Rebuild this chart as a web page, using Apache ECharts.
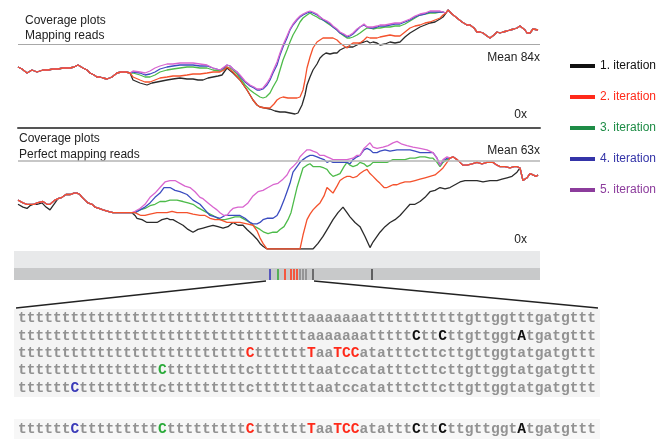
<!DOCTYPE html>
<html>
<head>
<meta charset="utf-8">
<script src="https://cdn.jsdelivr.net/npm/echarts@6/dist/echarts.min.js"></script>
<style>
  html, body { margin: 0; padding: 0; background: #fff; }
  #main { width: 659px; height: 440px; }
</style>
</head>
<body>
<div id="main"></div>
<script>
// iteration names and colours
var names = ['1. iteration', '2. iteration', '3. iteration', '4. iteration', '5. iteration'];
var lineColors = ['#2b2b2b', '#f4512c', '#4dbb4a', '#3b4cc0', '#d965cf'];
var legendColors = ['#111111', '#ff2a1a', '#1e8c46', '#3434a8', '#8c3c9c'];

// --- coverage, mapping reads (position, coverage x) ---
var mapLeft = [[0,61],[4,59],[9,55],[14,58],[19,56],[25,58],[30,58],[35,59],[40,59],[45,60],[52,60],[56,61],[60,63],[65,60],[69,58],[72,55],[76,53],[79,51],[82,51],[85,50],[89,49],[94,51],[99,55],[103,56],[108,56],[112,55]];
var mapRight = [[428,115],[430,118],[434,114],[439,110],[444,106],[449,103],[452,103],[456,100],[459,96],[462,96],[465,95],[469,92],[472,90],[476,93],[479,96],[482,95],[485,96],[489,97],[492,98],[496,99],[499,100],[502,102],[504,103],[507,98],[509,95],[512,95],[515,99],[517,101],[520,98]];
var mapIter1 = [[115,48],[122,45],[129,43],[134,45],[139,46],[144,47],[149,48],[155,49],[162,50],[169,49],[175,49],[180,48],[185,48],[190,50],[195,51],[200,52],[204,53],[209,60],[215,55],[222,48],[229,38],[235,28],[239,23],[242,21],[247,20],[252,19],[257,17],[262,16],[267,16],[272,15],[277,14],[280,15],[284,23],[287,33],[289,43],[292,51],[295,58],[299,64],[302,70],[305,73],[308,75],[312,74],[316,75],[319,75],[322,78],[326,80],[329,81],[332,81],[335,81],[339,83],[342,85],[346,86],[349,87],[352,85],[355,86],[359,85],[362,83],[367,84],[372,86],[377,85],[382,86],[387,91],[392,95],[397,98],[402,101],[407,103],[412,105],[417,106],[422,109],[425,111]];
var mapIter2 = [[115,51],[122,48],[127,46],[132,46],[137,48],[142,50],[149,51],[155,52],[162,52],[169,53],[175,54],[182,54],[189,55],[195,56],[202,56],[206,58],[209,61],[215,56],[222,48],[229,38],[235,28],[239,23],[242,21],[247,20],[252,20],[256,24],[259,28],[262,30],[265,31],[270,30],[275,30],[279,30],[282,31],[285,38],[287,48],[289,60],[292,71],[295,80],[299,86],[302,88],[305,90],[309,90],[315,90],[319,88],[322,85],[326,82],[329,80],[332,83],[335,85],[339,85],[342,85],[346,88],[349,91],[352,90],[355,90],[359,90],[362,91],[367,92],[372,93],[377,92],[382,92],[387,96],[392,100],[397,102],[402,103],[407,105],[412,106],[417,108],[422,110],[425,113]];
var mapIter3 = [[115,55],[122,53],[127,51],[132,51],[137,53],[142,56],[149,58],[155,59],[162,60],[169,61],[175,61],[182,60],[189,60],[195,58],[202,57],[206,59],[209,61],[212,60],[215,58],[219,54],[222,50],[227,43],[232,38],[236,35],[239,33],[242,31],[245,30],[248,31],[252,35],[255,41],[259,48],[262,58],[265,68],[269,78],[272,86],[275,93],[279,100],[282,106],[285,110],[289,113],[292,115],[295,113],[299,111],[302,109],[305,108],[309,105],[312,103],[315,101],[319,98],[322,95],[326,92],[329,90],[332,90],[335,91],[339,93],[342,95],[346,98],[349,100],[352,100],[355,99],[359,100],[362,100],[367,101],[372,101],[377,102],[382,102],[387,104],[392,107],[397,110],[402,113],[407,114],[412,115],[417,115],[422,116],[425,116]];
var mapIter4 = [[115,56],[122,55],[127,53],[132,54],[137,56],[142,59],[149,61],[155,62],[162,63],[169,63],[175,63],[182,62],[189,62],[195,60],[202,58],[206,60],[209,63],[212,62],[215,59],[219,56],[222,52],[227,46],[232,42],[236,40],[239,38],[242,38],[245,39],[249,43],[252,48],[255,55],[259,63],[262,73],[265,81],[269,90],[272,98],[275,103],[279,108],[282,111],[285,113],[289,115],[292,116],[295,115],[299,113],[302,111],[305,108],[309,106],[312,104],[315,101],[319,98],[322,95],[326,93],[329,91],[332,92],[335,94],[339,98],[342,101],[346,103],[349,101],[352,100],[355,100],[359,101],[362,102],[367,102],[372,103],[377,104],[382,104],[387,106],[392,108],[397,111],[402,113],[407,114],[412,116],[417,116],[422,116],[425,116]];
var mapIter5 = [[115,57],[122,56],[127,55],[132,57],[137,60],[142,62],[149,64],[155,64],[162,65],[169,65],[175,65],[182,64],[189,63],[195,60],[202,58],[206,61],[209,63],[212,62],[215,59],[219,56],[222,53],[227,47],[232,43],[236,41],[239,39],[242,39],[245,40],[249,45],[252,50],[255,57],[259,66],[262,75],[265,83],[269,92],[272,99],[275,104],[279,109],[282,112],[285,114],[289,116],[292,117],[295,116],[299,114],[302,111],[305,109],[309,107],[312,105],[315,102],[319,99],[322,96],[326,94],[329,92],[332,93],[335,95],[339,99],[342,101],[346,104],[349,101],[352,101],[355,101],[359,102],[362,103],[367,103],[372,104],[377,105],[382,105],[387,107],[392,109],[397,112],[402,114],[407,115],[412,117],[417,117],[422,117],[425,116]];

// --- coverage, perfect mapping reads ---
var perfHead = [[0,35],[5,33],[9,32],[12,32],[16,32],[19,33],[25,34],[29,32],[32,32],[37,35]];
var perfHead1 = [[0,32],[5,30],[9,29],[12,31],[15,32],[19,32],[24,33],[28,30],[32,28],[35,31],[37,33]];
var perfLeft = [[40,36],[44,37],[48,39],[52,39],[56,40],[59,40],[62,39],[64,37],[67,35],[70,33],[74,32],[77,30],[81,29],[85,28],[90,27],[95,26],[100,26],[105,26],[110,26],[114,26]];
var perfMerged = [[432,65],[435,66],[439,64],[442,62],[445,60],[449,60],[454,61],[459,62],[464,61],[469,62],[475,62],[479,60],[482,59],[487,59],[492,58],[496,59],[499,59]];
var perfTail = [[502,58],[505,49],[509,51],[512,54],[515,53],[518,52],[520,53]];
var perfIter1 = [[117,24],[119,22],[124,21],[129,19],[134,19],[139,19],[144,21],[149,22],[152,21],[155,21],[160,19],[165,17],[170,14],[175,12],[180,14],[185,15],[190,16],[195,17],[200,16],[205,15],[210,16],[215,19],[220,17],[225,17],[229,14],[232,12],[235,10],[239,7],[242,4],[245,2],[249,0],[295,0],[300,4],[305,9],[310,15],[315,21],[320,26],[325,30],[329,26],[332,23],[337,19],[342,16],[347,9],[352,1],[355,5],[359,9],[362,12],[367,16],[372,19],[377,21],[382,24],[387,28],[392,32],[397,32],[402,34],[407,37],[412,41],[417,42],[422,44],[427,43],[432,44],[437,46],[442,48],[447,49],[452,49],[459,49],[465,48],[472,49],[479,49],[484,50],[489,51],[494,52],[499,55]];
var perfIter2 = [[117,26],[120,25],[123,24],[127,24],[132,25],[139,26],[144,26],[149,26],[154,27],[159,26],[164,26],[169,26],[175,25],[182,24],[187,24],[192,22],[197,21],[202,21],[209,19],[215,19],[222,19],[229,18],[235,17],[239,13],[242,8],[245,4],[249,0],[282,0],[285,10],[289,21],[292,25],[295,28],[299,31],[302,33],[306,38],[309,44],[312,42],[315,40],[319,45],[322,49],[326,51],[329,52],[332,52],[335,51],[339,52],[342,54],[346,56],[349,57],[352,54],[355,52],[359,49],[362,47],[366,44],[369,44],[372,45],[375,46],[379,46],[382,47],[387,48],[392,48],[397,49],[402,50],[407,51],[412,52],[417,53],[422,56],[425,58],[429,62]];
var perfIter3 = [[117,26],[122,28],[127,29],[132,31],[137,32],[142,34],[147,34],[152,35],[159,35],[165,34],[170,33],[175,32],[179,30],[184,28],[189,26],[195,24],[202,21],[207,21],[212,22],[217,23],[222,23],[227,21],[232,19],[237,16],[242,14],[246,12],[250,11],[255,12],[259,12],[262,14],[266,16],[270,21],[273,26],[276,35],[279,44],[282,51],[285,58],[289,60],[292,61],[295,59],[299,59],[302,59],[306,58],[309,57],[312,54],[315,52],[319,53],[322,54],[326,59],[329,62],[332,60],[335,59],[339,60],[342,62],[346,61],[349,59],[352,60],[355,62],[359,62],[365,62],[369,62],[375,64],[379,64],[382,64],[387,64],[392,65],[397,65],[402,66],[407,66],[412,65],[415,65],[419,62],[422,59],[425,62],[429,64]];
var perfIter4 = [[117,26],[122,28],[127,30],[132,33],[137,37],[142,40],[146,44],[149,44],[152,44],[157,42],[162,41],[169,39],[175,35],[182,32],[187,28],[192,24],[197,23],[202,22],[207,24],[212,24],[217,24],[222,24],[227,22],[232,19],[235,18],[239,18],[242,19],[245,21],[249,22],[255,22],[259,24],[262,28],[266,35],[269,41],[272,47],[275,55],[279,59],[282,62],[285,64],[289,66],[292,67],[295,67],[299,66],[302,65],[306,64],[309,62],[312,63],[315,62],[319,62],[325,62],[329,62],[332,61],[335,64],[339,66],[342,67],[346,71],[349,72],[352,71],[355,69],[359,69],[362,70],[367,71],[372,70],[379,71],[385,71],[392,71],[397,70],[402,69],[407,69],[412,69],[415,69],[419,65],[422,60],[425,63],[429,65]];
var perfIter5 = [[117,27],[122,29],[127,32],[132,37],[137,40],[142,44],[147,48],[152,49],[157,49],[162,47],[167,45],[172,44],[177,41],[182,37],[185,36],[190,33],[195,30],[199,28],[202,26],[206,24],[209,24],[212,27],[215,29],[220,30],[225,30],[230,33],[235,38],[240,41],[245,42],[250,44],[255,46],[260,47],[265,50],[269,53],[272,57],[275,59],[279,62],[282,66],[286,69],[289,71],[292,71],[295,70],[299,69],[302,67],[306,67],[309,66],[312,65],[315,64],[319,64],[325,64],[329,64],[335,65],[339,67],[342,67],[346,72],[349,74],[352,76],[355,73],[359,72],[365,73],[370,74],[375,76],[379,77],[384,75],[389,74],[395,73],[402,72],[409,71],[415,69],[419,65],[422,60],[425,64],[429,66]];

// mean coverage and variant positions on the genome bar
var meanMapping = 84;
var meanPerfect = 63;
var variantPos = [252, 260, 267, 273, 276, 279, 282, 285, 288, 295, 354];
var variantColor = ['#3a3ab8', '#3aaa3a', '#ff3a1a', '#ff3a1a', '#ff3a1a', '#ff3a1a', '#888888', '#888888', '#888888', '#555555', '#444444'];

// sequence rows (66 bases each); upper case letters get the colours in seqMarks, in order
var seqRows = [
  'tttttttttttttttttttttttttttttttttt'.slice(0, 33) + 'aaaaaaa' + 'ttttttttttt' + 'gttggtttgatgttt',
  'tttttttttttttttttttttttttttttttttt'.slice(0, 33) + 'aaaaaaa' + 'ttttt' + 'CttCtt' + 'gttggtAtgatgttt',
  'tttttttttttttttttttttttttt' + 'C' + 'tttttt' + 'TaaTCC' + 'atatttcttcttgttggtatgatgttt',
  'tttttttttttttttt' + 'C' + 'ttttttttt' + 'c' + 'ttttttt' + 'aatcc' + 'atatttcttcttgttggtatgatgttt',
  'tttttt' + 'C' + 'ttttttttt' + 'c' + 'ttttttttt' + 'c' + 'ttttttt' + 'aatcc' + 'atatttcttcttgttggtatgatgttt',
  'tttttt' + 'C' + 'ttttttttt' + 'C' + 'ttttttttt' + 'C' + 'tttttt' + 'TaaTCC' + 'atatttCttCtt' + 'gttggtAtgatgttt'
];
var seqMarks = ['', 'kkk', 'rrrrr', 'g', 'b', 'bgrrrrrkkk'];
var seqY = [318, 336, 353, 370, 388, 429];

function seqMarkup(row, marks) {
  var out = '', k = 0, run = '';
  for (var i = 0; i < row.length; i++) {
    var ch = row[i];
    if (ch >= 'A' && ch <= 'Z') {
      if (run) { out += '{n|' + run + '}'; run = ''; }
      out += '{' + marks[k++] + '|' + ch + '}';
    } else {
      run += ch;
    }
  }
  if (run) out += '{n|' + run + '}';
  return out;
}

var monoFont = 'bold 14.6px "Liberation Mono", "DejaVu Sans Mono", monospace';
var richStyles = {
  n: { fill: '#929292', font: monoFont },
  k: { fill: '#111111', font: monoFont },
  r: { fill: '#ff2a1a', font: monoFont },
  g: { fill: '#2aaa3a', font: monoFont },
  b: { fill: '#3a3ab8', font: monoFont }
};

var myChart = echarts.init(document.getElementById('main'));

var topMid = [mapIter1, mapIter2, mapIter3, mapIter4, mapIter5];
var botMid = [perfIter1, perfIter2, perfIter3, perfIter4, perfIter5];
var drawOrder = [0, 2, 3, 4, 1]; // red on top where lines coincide

var series = [];
drawOrder.forEach(function (i, n) {
  var s = {
    name: names[i], type: 'line', xAxisIndex: 0, yAxisIndex: 0,
    showSymbol: false, silent: true,
    lineStyle: { color: lineColors[i], width: 1.3 },
    itemStyle: { color: lineColors[i] },
    data: mapLeft.concat(topMid[i], mapRight)
  };
  if (n === 0) {
    s.markLine = { silent: true, symbol: 'none', label: { show: false },
      lineStyle: { color: '#a8a8a8', width: 1, type: 'solid' }, data: [{ yAxis: meanMapping }] };
  }
  series.push(s);
});
drawOrder.forEach(function (i, n) {
  var data = i === 0 ? perfHead1.concat(perfLeft, botMid[i], perfTail)
                     : perfHead.concat(perfLeft, botMid[i], perfMerged, perfTail);
  var s = {
    name: names[i], type: 'line', xAxisIndex: 1, yAxisIndex: 1,
    showSymbol: false, silent: true,
    lineStyle: { color: lineColors[i], width: 1.3 },
    itemStyle: { color: lineColors[i] },
    data: data
  };
  if (n === 0) {
    s.markLine = { silent: true, symbol: 'none', label: { show: false },
      lineStyle: { color: '#b4b4b4', width: 1.5, type: 'solid' }, data: [{ yAxis: meanPerfect }] };
  }
  series.push(s);
});
series.push({
  type: 'scatter', xAxisIndex: 2, yAxisIndex: 2, silent: true,
  symbol: 'rect', symbolSize: [2, 11],
  data: variantPos.map(function (p, i) { return { value: [p, 0], itemStyle: { color: variantColor[i] } }; })
});

var hidden = { show: false };
var graphic = [
  { type: 'text', style: { x: 25, y: 13, text: 'Coverage plots\nMapping reads', font: '12px "Liberation Sans", Arial', lineHeight: 15, fill: '#222' } },
  { type: 'text', style: { x: 19, y: 131, text: 'Coverage plots\nPerfect mapping reads', font: '12px "Liberation Sans", Arial', lineHeight: 16, fill: '#222' } },
  { type: 'text', style: { x: 540, y: 58, text: 'Mean ' + meanMapping + 'x', align: 'right', verticalAlign: 'middle', font: '12px "Liberation Sans", Arial', fill: '#222' } },
  { type: 'text', style: { x: 527, y: 115, text: '0x', align: 'right', verticalAlign: 'middle', font: '12px "Liberation Sans", Arial', fill: '#222' } },
  { type: 'text', style: { x: 540, y: 151, text: 'Mean ' + meanPerfect + 'x', align: 'right', verticalAlign: 'middle', font: '12px "Liberation Sans", Arial', fill: '#222' } },
  { type: 'text', style: { x: 527, y: 240, text: '0x', align: 'right', verticalAlign: 'middle', font: '12px "Liberation Sans", Arial', fill: '#222' } },
  // genome bar
  { type: 'rect', shape: { x: 14, y: 251, width: 526, height: 17 }, style: { fill: '#e8e9ea' } },
  { type: 'rect', shape: { x: 14, y: 268, width: 526, height: 12 }, style: { fill: '#c8c9ca' } },
  // zoom lines
  { type: 'line', shape: { x1: 16, y1: 308, x2: 266, y2: 281 }, style: { stroke: '#222', lineWidth: 1.5 } },
  { type: 'line', shape: { x1: 314, y1: 281, x2: 598, y2: 308 }, style: { stroke: '#222', lineWidth: 1.5 } },
  // sequence block backgrounds
  { type: 'rect', shape: { x: 14, y: 309, width: 586, height: 88 }, style: { fill: '#f4f4f4' } },
  { type: 'rect', shape: { x: 14, y: 419, width: 586, height: 20 }, style: { fill: '#f7f7f7' } }
];
seqRows.forEach(function (row, r) {
  graphic.push({
    type: 'text', z: 10,
    style: { x: 18, y: seqY[r], text: seqMarkup(row, seqMarks[r]), verticalAlign: 'middle', font: monoFont, rich: richStyles }
  });
});

var option = {
  animation: false,
  backgroundColor: '#ffffff',
  legend: {
    orient: 'vertical', left: 565, top: 55, icon: 'rect',
    itemWidth: 25, itemHeight: 4, itemGap: 19, selectedMode: false,
    textStyle: { fontSize: 12, fontFamily: '"Liberation Sans", Arial' },
    data: names.map(function (n, i) {
      return { name: n, itemStyle: { color: legendColors[i] }, textStyle: { color: legendColors[i] } };
    })
  },
  grid: [
    { left: 18, top: 0, width: 522, height: 128 },
    { left: 18, top: 129, width: 522, height: 120 },
    { left: 18, top: 269, width: 522, height: 11 }
  ],
  xAxis: [
    { gridIndex: 0, type: 'value', min: 0, max: 522, splitLine: hidden, axisTick: hidden, axisLabel: hidden,
      axisLine: { show: true, onZero: false, lineStyle: { color: '#555', width: 2 } } },
    { gridIndex: 1, type: 'value', min: 0, max: 522, show: false },
    { gridIndex: 2, type: 'value', min: 0, max: 522, show: false }
  ],
  yAxis: [
    { gridIndex: 0, type: 'value', min: 0, max: 128, show: false },
    { gridIndex: 1, type: 'value', min: 0, max: 85.9, show: false },
    { gridIndex: 2, type: 'value', min: -1, max: 1, show: false }
  ],
  graphic: graphic,
  series: series
};
myChart.setOption(option);
</script>
</body>
</html>
